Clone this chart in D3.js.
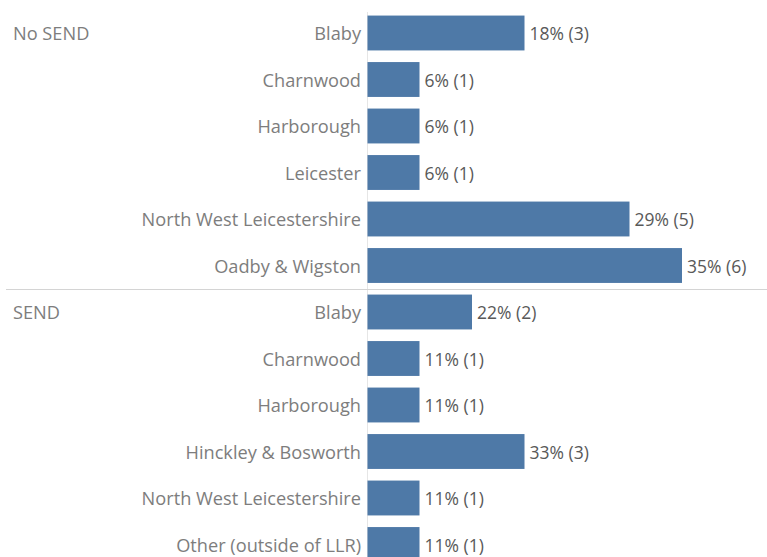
<!DOCTYPE html>
<html><head><meta charset="utf-8">
<script src="https://cdn.jsdelivr.net/npm/d3@7"></script>
<style>body{margin:0;background:#fff}svg{display:block}</style>
</head><body>
<svg id="c" width="767" height="557"></svg>
<script>
const groups = ["No SEND", "SEND"];
const noSendAreas = ["Blaby", "Charnwood", "Harborough", "Leicester", "North West Leicestershire", "Oadby & Wigston"];
const noSendCounts = [3, 1, 1, 1, 5, 6];
const noSendPct = ["18%", "6%", "6%", "6%", "29%", "35%"];
const sendAreas = ["Blaby", "Charnwood", "Harborough", "Hinckley & Bosworth", "North West Leicestershire", "Other (outside of LLR)"];
const sendCounts = [2, 1, 1, 3, 1, 1];
const sendPct = ["22%", "11%", "11%", "33%", "11%", "11%"];

const rows = [];
noSendAreas.forEach((a, i) => rows.push({group: groups[0], area: a, count: noSendCounts[i], pct: noSendPct[i], key: groups[0] + "|" + a}));
sendAreas.forEach((a, i) => rows.push({group: groups[1], area: a, count: sendCounts[i], pct: sendPct[i], key: groups[1] + "|" + a}));

const svg = d3.select("#c");
const font = "'Open Sans', sans-serif";
const x0 = 367;
const x = d3.scaleLinear().domain([0, 6]).range([x0, 682]);
const y = d3.scaleBand().domain(rows.map(r => r.key)).range([9.75, 9.75 + 46.5 * 12]).paddingInner(0.25).paddingOuter(0.125);
const step = y.step();

// axis line
svg.append("line").attr("x1", x0 + 0.5).attr("x2", x0 + 0.5).attr("y1", 12).attr("y2", 557)
  .attr("stroke", "#e6e6e6").attr("stroke-width", 1);

// separator
const sepY = Math.round(y(rows[6].key) - (step - y.bandwidth()) / 2) + 0.5;
svg.append("line").attr("x1", 6).attr("x2", 767).attr("y1", sepY).attr("y2", sepY)
  .attr("stroke", "#d4d4d4").attr("stroke-width", 1);

// bars
svg.selectAll("rect.bar").data(rows).join("rect").attr("class", "bar")
  .attr("x", x0 + 0.5).attr("y", d => y(d.key))
  .attr("width", d => x(d.count) - x0 - 0.5).attr("height", y.bandwidth())
  .attr("fill", "#4e79a7");

// area labels
svg.selectAll("text.area").data(rows).join("text").attr("class", "area")
  .attr("x", 361).attr("y", d => y(d.key) + y.bandwidth() / 2)
  .attr("dy", "0.4em").attr("text-anchor", "end")
  .attr("font-family", font).attr("font-size", 18.2).attr("fill", "#7d7d7d")
  .text(d => d.area);

// value labels
svg.selectAll("text.val").data(rows).join("text").attr("class", "val")
  .attr("x", d => x(d.count) + 5).attr("y", d => y(d.key) + y.bandwidth() / 2)
  .attr("dy", "0.4em")
  .attr("font-family", font).attr("font-size", 17.5).attr("fill", "#595959")
  .text(d => `${d.pct} (${d.count})`);

// group labels
groups.forEach(g => {
  const first = rows.find(r => r.group === g);
  svg.append("text").attr("x", 13).attr("y", y(first.key) + y.bandwidth() / 2).attr("dy", "0.4em")
    .attr("font-family", font).attr("font-size", 18.2).attr("fill", "#7d7d7d").text(g);
});
</script>
</body></html>
